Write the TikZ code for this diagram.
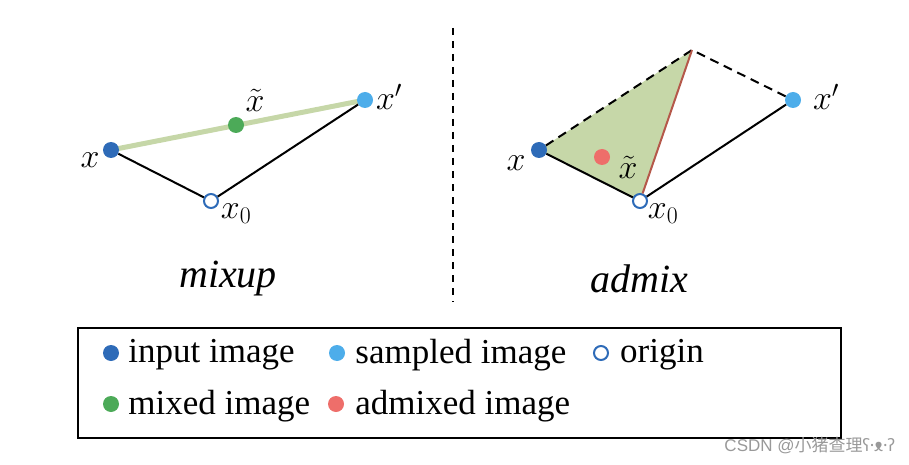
\RequirePackage{fix-cm}
\documentclass[tikz,border=0pt]{standalone}
\usepackage{fontspec}
\setmainfont{Liberation Serif}
\newfontfamily\cjk{Noto Sans CJK SC}
\newfontfamily\wmsans{Liberation Sans}
\newfontfamily\notosans{Noto Sans}
\usetikzlibrary{positioning,backgrounds}
\definecolor{inblue}{HTML}{2E6BB8}
\definecolor{smpblue}{HTML}{4DADEA}
\definecolor{mixgreen}{HTML}{4CAA58}
\definecolor{admred}{HTML}{EE6E6A}
\definecolor{linegreen}{HTML}{C6D7A8}
\definecolor{redline}{HTML}{B5584A}
\begin{document}
\begin{tikzpicture}%
	[x=1pt,y=-1pt,
	dot/.style={circle,inner sep=0pt,minimum size=16pt},
	hollow/.style={circle,inner sep=0pt,minimum size=14pt,draw=inblue,line width=2pt,fill=white},
	edge/.style={black,line width=2pt},
	dashedge/.style={black,line width=2pt,dash pattern=on 9pt off 6pt},
	lbl/.style={inner sep=0pt,font=\fontsize{34}{40}\selectfont},
	title/.style={inner sep=0pt,font=\fontsize{40}{46}\selectfont\itshape},
	legtext/.style={inner sep=0pt,anchor=west,yshift=-2pt,font=\fontsize{35}{42}\selectfont}]
\useasboundingbox (0,0) rectangle (909,465);
%%
%% mixup (left)
%%
\node[dot,fill=inblue] (mx) at (111,150) {};
\node[dot,fill=smpblue] (mxp) at (365,100) {};
\node[hollow] (mo) at (211,201) {};
\begin{scope}[on background layer]
\draw[linegreen,line width=5pt] (mx.center) -- (mxp.center);
\end{scope}
\node[dot,fill=mixgreen] (mt) at (236,125) {};
\draw[edge] (mx) -- (mo);
\draw[edge] (mo) -- (mxp);
\node[lbl] at (90,160) {$x$};
\node[lbl] at (389,97) {$x'$};
\node[lbl] at (255,100) {$\tilde{x}$};
\node[lbl] at (236,214) {$x_0$};
\node[title] (mixlbl) at (228,279) {mixup};
%%
%% separator
%%
\coordinate (septop) at (453,28);
\coordinate (sepbot) at (453,302);
\draw[black,line width=2pt,dash pattern=on 7pt off 6pt] (septop) -- (sepbot);
%%
%% admix (right)
%%
\node[dot,fill=inblue] (ax) at (539,150) {};
\node[dot,fill=smpblue] (axp) at (793,100) {};
\node[hollow] (ao) at (640,201) {};
\coordinate (atop) at (692,50);
\begin{scope}[on background layer]
\fill[linegreen] (ax.center) -- (atop) -- (ao.center) -- cycle;
\end{scope}
\draw[dashedge] (ax) -- (atop) -- (axp);
\draw[redline,line width=2pt] (atop) -- (ao);
\draw[edge] (ax) -- (ao);
\draw[edge] (ao) -- (axp);
\node[dot,fill=admred] (at) at (602,157) {};
\node[lbl] at (516,163) {$x$};
\node[lbl] at (826,97) {$x'$};
\node[lbl] at (628,167) {$\tilde{x}$};
\node[lbl] at (663,214) {$x_0$};
\node[title] (admlbl) at (639,279) {admix};
%%
%% legend
%%
\draw[black,line width=2.5pt] (78,328) rectangle (841,438);
\node[dot,fill=inblue] (l1) at (111,353) {};
\node[legtext,right=9pt of l1] {input image};
\node[dot,fill=smpblue] (l2) at (337,353) {};
\node[legtext,right=10pt of l2] {sampled image};
\node[hollow] (l3) at (601,353) {};
\node[legtext,right=11pt of l3] {origin};
\node[dot,fill=mixgreen] (l4) at (111,404) {};
\node[legtext,right=9pt of l4] {mixed image};
\node[dot,fill=admred] (l5) at (336,404) {};
\node[legtext,right=11pt of l5] {admixed image};
%%
%% watermark
%%
\node[anchor=east,inner sep=0pt,text=black!40,font=\fontsize{17}{20}\selectfont] (wm) at (895,446) {\wmsans CSDN @\cjk 小猪查理\notosans ʕ·ᴥ·ʔ};
\end{tikzpicture}
\end{document}
